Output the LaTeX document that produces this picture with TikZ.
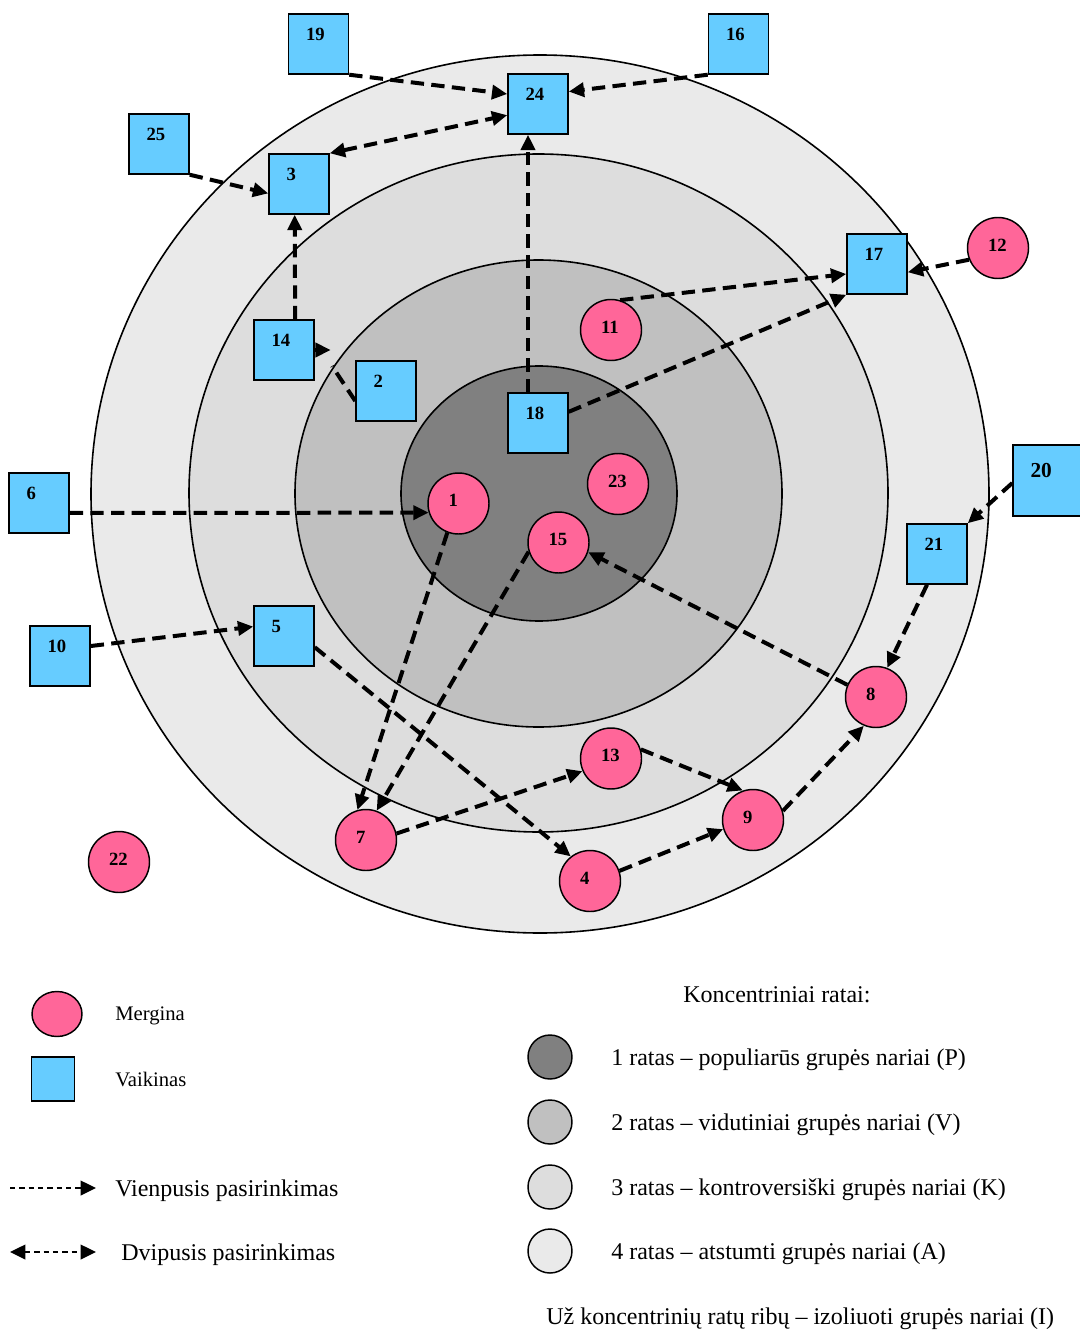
\documentclass[tikz,border=0pt]{standalone}
\usepackage{fontspec}
\setmainfont{Liberation Serif}
\usetikzlibrary{arrows.meta}
\usetikzlibrary{shapes.geometric}
\definecolor{girlpink}{HTML}{FF6699}
\definecolor{boyblue}{HTML}{66CCFF}
\definecolor{ringone}{HTML}{808080}
\definecolor{ringtwo}{HTML}{C0C0C0}
\definecolor{ringthree}{HTML}{DDDDDD}
\definecolor{ringfour}{HTML}{EAEAEA}

\begin{document}
\begin{tikzpicture}[x=0.75pt,y=-0.75pt,
        num/.style={font=\bfseries\fontsize{14}{14}\selectfont},
        girl/.style={circle,draw,line width=1.1pt,fill=girlpink,minimum size=45.75pt,inner sep=0pt,
            label={[num,anchor=west,inner sep=0pt,xshift=15.75pt,yshift=2.25pt]west:#1}},
        boy/.style={rectangle,draw,line width=1.1pt,fill=boyblue,minimum size=45pt,inner sep=0pt,
            label={[num,anchor=west,inner sep=0pt,xshift=13.5pt,yshift=7.5pt]west:#1}},
        choice/.style={line width=3pt,dash pattern=on 10pt off 5.5pt,-{Triangle[length=11.5pt,width=10.5pt]}},
        mutual/.style={choice,{Triangle[length=11.5pt,width=10.5pt]}-{Triangle[length=11.5pt,width=10.5pt]}},
        keyline/.style={line width=1.1pt,dash pattern=on 4pt off 3pt},
        ring/.style={draw,line width=1.2pt},
        ringkey/.style={circle,draw,line width=1.1pt,minimum size=33pt,inner sep=0pt},
        legend/.style={anchor=west,inner sep=0pt,font=\fontsize{18}{18}\selectfont},
        smalllegend/.style={legend,font=\fontsize{15.5}{15.5}\selectfont}]
        \useasboundingbox (0,0) rectangle (1079,1330);
        \draw[ring,fill=ringfour] (540,494) ellipse [x radius=449,y radius=439];
        \draw[ring,fill=ringthree] (538.5,493) ellipse [x radius=349.5,y radius=339];
        \draw[ring,fill=ringtwo] (538.5,493.5) ellipse [x radius=243.5,y radius=233.5];
        \draw[ring,fill=ringone] (539,493.5) ellipse [x radius=138,y radius=127.5];

        \node[boy=19] (n19) at (318.5,44) {};
        \node[boy=16] (n16) at (738.5,44) {};
        \node[boy=24] (n24) at (538,104) {};
        \node[boy=25] (n25) at (159,144) {};
        \node[boy=3] (n3) at (299,184) {};
        \node[boy=14] (n14) at (284,350) {};
        \node[boy=2] (n2) at (386,391) {};
        \node[boy=18] (n18) at (538,423) {};
        \node[boy=17] (n17) at (877,264) {};
        \node[boy=21] (n21) at (937,554) {};
        \node[boy=6] (n6) at (39,503) {};
        \node[boy=10] (n10) at (60,656) {};
        \node[boy=5] (n5) at (284,636) {};
        \node[boy={\fontsize{16}{16}\selectfont 20},minimum width=52.5pt,minimum height=53pt] (n20) at (1048,480.5) {};

        \node[girl=11] (n11) at (611,330) {};
        \node[girl=12] (n12) at (998,248) {};
        \node[girl=1] (n1) at (458.5,503.5) {};
        \node[girl=23] (n23) at (618,484) {};
        \node[girl=15] (n15) at (558.5,542.5) {};
        \node[girl=13] (n13) at (611,758.5) {};
        \node[girl=7] (n7) at (366,840) {};
        \node[girl=4] (n4) at (590,881) {};
        \node[girl=9] (n9) at (753,820) {};
        \node[girl=8] (n8) at (876,697) {};
        \node[girl=22] (n22) at (119,862) {};

        \draw[choice] (n19.south east) -- (n24.162);
        \draw[choice] (n16.south west) -- (n24.22);
        \draw[mutual] (n3.north east) -- (n24.200);
        \draw[choice] (n25.south east) -- (n3.197);
        \draw[choice] (n14.70) -- (n3.262);
        \draw[choice] (n18.108) -- (n24.252);
        \coordinate (c2) at (332,366);
        \draw[choice,-] (n2.198) -- (c2);
        \draw[choice] (n14.east) -- ++(16,0);
        \draw[choice] (n11.73) -- (n17.198);
        \draw[choice] (n18.20) -- (n17.south west);
        \draw[choice] (n12.202) -- (n17.-15);
        \draw[choice] (n6.-18) -- (n1.197);
        \draw[choice] (n10.18) -- (n5.163);
        \draw[choice] (n20.184) -- (n21.north east);
        \draw[choice] (n21.252) -- (n8.69);
        \draw[choice] (n8.157) -- (n15.-18);
        \draw[choice] (n1.249) -- (n7.106);
        \draw[choice] (n15.197) -- (n7.70);
        \draw[choice] (n5.-20) -- (n4.128);
        \draw[choice] (n7.12) -- (n13.204);
        \draw[choice] (n13.17) -- (n9.109);
        \draw[choice] (n4.19) -- (n9.197);
        \draw[choice] (n9.17) -- (n8.247);

        \node[ellipse,draw,line width=1.1pt,fill=girlpink,minimum width=37.5pt,minimum height=33.75pt] (lgirl) at (57,1014) {};
        \node[smalllegend] (tgirl) at (115,1016) {Mergina};
        \node[draw,line width=1.1pt,fill=boyblue,minimum width=32.25pt,minimum height=33pt] (lboy) at (53,1079) {};
        \node[smalllegend] (tboy) at (115,1079) {Vaikinas};
        \coordinate (va) at (10,1188);
        \coordinate (vb) at (96,1188);
        \draw[keyline,-{Triangle[length=11.5pt,width=11pt]}] (va) -- (vb);
        \node[legend] (tone) at (115,1191) {Vienpusis pasirinkimas};
        \coordinate (da) at (10,1252);
        \coordinate (db) at (96,1252);
        \draw[keyline,{Triangle[length=11.5pt,width=11pt]}-{Triangle[length=11.5pt,width=11pt]}] (da) -- (db);
        \node[legend] (ttwo) at (121,1255) {Dvipusis pasirinkimas};

        \node[legend] (rtitle) at (683,995) {Koncentriniai ratai:};
        \node[ringkey,fill=ringone] (k1) at (550,1057) {};
        \node[ringkey,fill=ringtwo] (k2) at (550,1122) {};
        \node[ringkey,fill=ringthree] (k3) at (550,1187) {};
        \node[ringkey,fill=ringfour] (k4) at (550,1251) {};
        \node[legend] (t1) at (611,1060) {1 ratas – populiarūs grupės nariai (P)};
        \node[legend] (t2) at (611,1125) {2 ratas – vidutiniai grupės nariai (V)};
        \node[legend] (t3) at (611,1190) {3 ratas – kontroversiški grupės nariai (K)};
        \node[legend] (t4) at (611,1254) {4 ratas – atstumti grupės nariai (A)};
        \node[legend] (tout) at (546,1319) {Už koncentrinių ratų ribų – izoliuoti grupės nariai (I)};
    \end{tikzpicture}
\end{document}
